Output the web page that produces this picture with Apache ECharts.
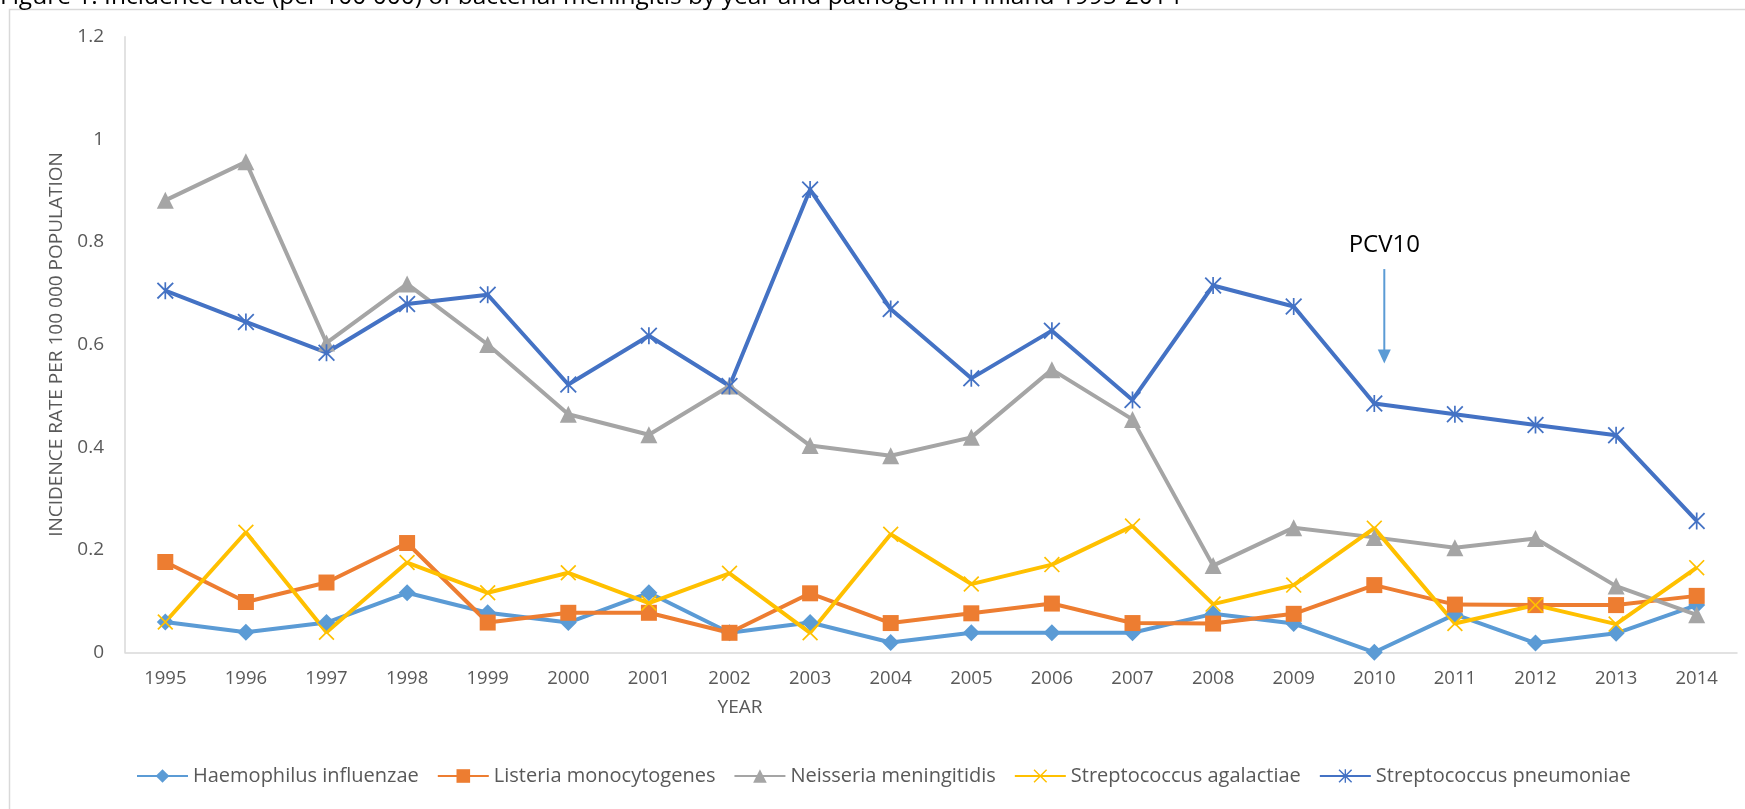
<!DOCTYPE html>
<html>
<head>
<meta charset="utf-8">
<script src="https://cdn.jsdelivr.net/npm/echarts@6/dist/echarts.min.js"></script>
<style>
  html, body { margin: 0; padding: 0; background: #ffffff; }
  #chart { width: 1745px; height: 809px; }
</style>
</head>
<body>
<div id="chart"></div>
<script>
// Incidence of bacterial meningitis per 100 000 population, Finland
const years = ['1995', '1996', '1997', '1998', '1999', '2000', '2001', '2002', '2003', '2004',
               '2005', '2006', '2007', '2008', '2009', '2010', '2011', '2012', '2013', '2014'];

const haemophilus = [0.059, 0.039, 0.058, 0.116, 0.077, 0.058, 0.116, 0.038, 0.058, 0.019,
                     0.038, 0.038, 0.038, 0.075, 0.056, 0.000, 0.074, 0.018, 0.037, 0.092];
const listeria    = [0.176, 0.098, 0.136, 0.213, 0.058, 0.077, 0.077, 0.038, 0.115, 0.057,
                     0.076, 0.095, 0.057, 0.056, 0.075, 0.131, 0.093, 0.092, 0.092, 0.110];
const neisseria   = [0.881, 0.956, 0.603, 0.718, 0.600, 0.464, 0.424, 0.519, 0.403, 0.383,
                     0.419, 0.551, 0.454, 0.169, 0.243, 0.224, 0.204, 0.222, 0.129, 0.073];
const agalactiae  = [0.059, 0.234, 0.039, 0.175, 0.116, 0.155, 0.096, 0.154, 0.038, 0.230,
                     0.133, 0.171, 0.246, 0.094, 0.131, 0.242, 0.056, 0.092, 0.055, 0.165];
const pneumoniae  = [0.705, 0.644, 0.584, 0.679, 0.697, 0.522, 0.617, 0.519, 0.902, 0.669,
                     0.534, 0.627, 0.492, 0.715, 0.674, 0.485, 0.464, 0.443, 0.423, 0.256];

const seriesNames = ['Haemophilus influenzae', 'Listeria monocytogenes', 'Neisseria meningitidis',
                     'Streptococcus agalactiae', 'Streptococcus pneumoniae'];

const yTicks = { min: 0, max: 1.2, step: 0.2 };

// PCV10 vaccine introduction marker
const pcvYear = '2010';
const pcvLabel = 'PCV10';
const pcvArrow = { label: 0.794, from: 0.747, to: 0.563 };

const FONT = '"Open Sans", "DejaVu Sans", sans-serif';
const TEXT_GREY = '#595959';
const AXIS_GREY = '#d9d9d9';

// thin cross and asterisk markers
const crossPath = 'path://M0,1.5 L1.5,0 L10,8.5 L18.5,0 L20,1.5 L11.5,10 L20,18.5 L18.5,20 L10,11.5 L1.5,20 L0,18.5 L8.5,10 Z';
const starPath = 'path://M0,1.5 L1.5,0 L10,8.5 L18.5,0 L20,1.5 L11.5,10 L20,18.5 L18.5,20 L10,11.5 L1.5,20 L0,18.5 L8.5,10 Z M9,0 L11,0 L11,20 L9,20 Z';

function lineSeries(name, data, color, symbol, size) {
  return {
    name: name,
    type: 'line',
    data: data,
    symbol: symbol,
    symbolSize: size,
    showAllSymbol: true,
    lineStyle: { color: color, width: 4 },
    itemStyle: { color: color },
    emphasis: { disabled: true }
  };
}

const chart = echarts.init(document.getElementById('chart'), null, { renderer: 'canvas' });

chart.setOption({
  animation: false,
  backgroundColor: '#ffffff',
  textStyle: { fontFamily: FONT },
  title: {
    text: 'Figure 1: Incidence rate (per 100 000) of bacterial meningitis by year and pathogen in Finland 1995-2014',
    left: 0,
    top: -15,
    padding: 0,
    textStyle: { fontFamily: FONT, fontSize: 24.5, fontWeight: 'normal', color: '#000000' }
  },
  grid: { left: 125, right: 8, top: 36.7, bottom: 156.7, containLabel: false },
  legend: {
    data: seriesNames,
    left: 131,
    top: 761,
    itemWidth: 51,
    itemHeight: 17,
    itemGap: 18,
    textStyle: { fontFamily: FONT, fontSize: 20, color: TEXT_GREY }
  },
  xAxis: {
    type: 'category',
    data: years,
    boundaryGap: true,
    name: 'YEAR',
    nameLocation: 'middle',
    nameGap: 46,
    nameTextStyle: { fontFamily: FONT, fontSize: 19, color: TEXT_GREY, padding: [0, 382, 0, 0] },
    axisLine: { show: true, lineStyle: { color: AXIS_GREY, width: 1.5 } },
    axisTick: { show: false },
    axisLabel: { fontFamily: FONT, fontSize: 18.5, color: TEXT_GREY, margin: 17 },
    splitLine: { show: false }
  },
  yAxis: {
    type: 'value',
    min: yTicks.min,
    max: yTicks.max,
    interval: yTicks.step,
    name: 'INCIDENCE RATE PER 100 000 POPULATION',
    nameLocation: 'middle',
    nameRotate: 90,
    nameGap: 57,
    nameTextStyle: { fontFamily: FONT, fontSize: 19, color: TEXT_GREY },
    axisLine: { show: true, lineStyle: { color: AXIS_GREY, width: 1.5 } },
    axisTick: { show: false },
    axisLabel: { fontFamily: FONT, fontSize: 19, color: TEXT_GREY, margin: 21 },
    splitLine: { show: false }
  },
  series: [
    lineSeries(seriesNames[0], haemophilus, '#5B9BD5', 'diamond', 17),
    lineSeries(seriesNames[1], listeria, '#ED7D31', 'rect', 16),
    lineSeries(seriesNames[2], neisseria, '#A5A5A5', 'triangle', 17),
    lineSeries(seriesNames[3], agalactiae, '#FFC000', crossPath, 16),
    lineSeries(seriesNames[4], pneumoniae, '#4472C4', starPath, 17)
  ],
  graphic: [
    {
      id: 'frame',
      type: 'rect',
      silent: true,
      z: -10,
      shape: { x: 9.5, y: 9.5, width: 1800, height: 900 },
      style: { fill: 'none', stroke: AXIS_GREY, lineWidth: 1.5 }
    }
  ]
});

// place the PCV10 arrow relative to the axes
const ax = chart.convertToPixel({ xAxisIndex: 0 }, pcvYear) + 10;
const yLabel = chart.convertToPixel({ yAxisIndex: 0 }, pcvArrow.label);
const yFrom = chart.convertToPixel({ yAxisIndex: 0 }, pcvArrow.from);
const yTo = chart.convertToPixel({ yAxisIndex: 0 }, pcvArrow.to);

chart.setOption({
  graphic: [
    {
      id: 'pcv-label',
      type: 'text',
      silent: true,
      style: {
        text: pcvLabel, x: ax, y: yLabel,
        align: 'center', verticalAlign: 'middle',
        font: '24px ' + FONT, fill: '#000000'
      }
    },
    {
      id: 'pcv-shaft',
      type: 'line',
      silent: true,
      shape: { x1: ax, y1: yFrom, x2: ax, y2: yTo - 12 },
      style: { stroke: '#5B9BD5', lineWidth: 2 }
    },
    {
      id: 'pcv-head',
      type: 'polygon',
      silent: true,
      shape: { points: [[ax - 6.5, yTo - 14], [ax + 6.5, yTo - 14], [ax, yTo]] },
      style: { fill: '#5B9BD5' }
    }
  ]
});
</script>
</body>
</html>
